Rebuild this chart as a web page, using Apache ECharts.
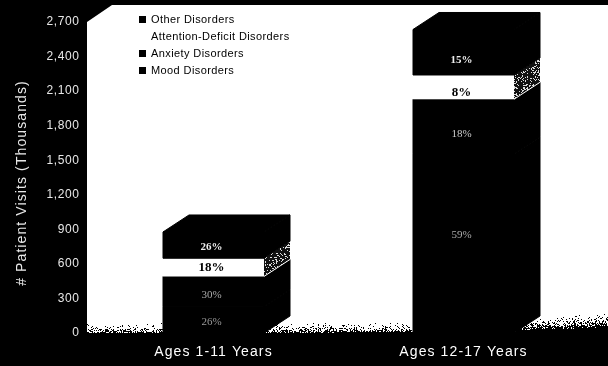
<!DOCTYPE html>
<html><head><meta charset="utf-8">
<style>html,body{margin:0;padding:0;background:#000}#c{width:608px;height:366px}</style>
<script src="https://cdn.jsdelivr.net/npm/echarts@6/dist/echarts.min.js"></script>
</head><body><div id="c"></div>
<script>
var categories = ['Ages 1-11 Years', 'Ages 12-17 Years'];
var yTickMax = 2700, yTickStep = 300;
var mood = [228, 1555];
var anxiety = [263, 474];
var adhd = [158, 211];
var other = [228, 395];
var moodPct = ['26%', '59%'];
var anxietyPct = ['30%', '18%'];
var adhdPct = ['18%', '8%'];
var otherPct = ['26%', '15%'];
var moodLabelAt = [95, 851];
var anxietyLabelAt = [330, 1727];
var adhdLabelAt = [564, 2083];
var otherLabelAt = [747, 2370];

// The reference's sans text is tracked out: apply letter spacing by font size at draw time.
var tracking = { '14px': '1.1px', '12px': '0.6px', '11px': '0.4px' };
var rawFill = CanvasRenderingContext2D.prototype.fillText;
CanvasRenderingContext2D.prototype.fillText = function (t, x, y, m) {
  var f = this.font, s = '0px';
  if (f.indexOf('Liberation Sans') >= 0) { var k = f.match(/([\d.]+px)/); if (k && tracking[k[1]]) s = tracking[k[1]]; }
  this.letterSpacing = s;
  if (m === undefined) rawFill.call(this, t, x, y); else rawFill.call(this, t, x, y, m);
  this.letterSpacing = '0px';
};

function h(x, y) { var n = Math.sin(x * 12.9898 + y * 78.233) * 43758.5453; return n - Math.floor(n); }
function speckTile() {
  var c = document.createElement('canvas'); c.width = c.height = 48;
  var g = c.getContext('2d'); g.fillStyle = '#111'; g.fillRect(0, 0, 48, 48); g.fillStyle = '#ddd';
  for (var y = 0; y < 48; y++) for (var x = 0; x < 48; x++) if (h(x, y) < 0.22) g.fillRect(x, y, 1, 1);
  return c;
}
function floorBottom(x) { return x < 515 ? 333 - (x - 87) * 0.004 : 331 - (x - 515) * 0.05; }
function floorTexture() {
  var c = document.createElement('canvas'); c.width = 521; c.height = 36;
  var g = c.getContext('2d'); g.fillStyle = '#000';
  for (var x = 0; x < 521; x++) for (var y = 0; y < 36; y++) {
    var X = x + 87, Y = y + 304, d = floorBottom(X) - Y, depth = X > 515 ? 16 : 11;
    if (d < 0) { g.fillRect(x, y, 1, 1); continue; }
    if (d < depth) {
      var p = Math.pow(1 - d / depth, 2.2) * (X > 515 ? 0.95 : 0.75);
      if (h(X, Y) < p) g.fillRect(x, y, 1, 1);
    }
  }
  return c;
}
var sidePattern = { image: speckTile(), repeat: 'repeat' };

function makeSeries(name, values, bases, pcts, labelAt, fill, labelColor, labelFont, sideFill, isTop) {
  var solid = { fill: '#000', stroke: '#000', lineWidth: 1 };
  return {
    name: name, type: 'custom', coordinateSystem: 'cartesian2d', itemStyle: { color: fill },
    encode: { x: 0, y: [1, 2] },
    data: values.map(function (v, i) { return [i, bases[i], bases[i] + v, labelAt[i], pcts[i]]; }),
    renderItem: function (params, api) {
      var i = api.value(0), band = api.size([1, 0])[0], w = band * 0.404, dx = band * 0.104, dy = band * 0.068;
      var p0 = api.coord([i, api.value(1)]), p1 = api.coord([i, api.value(2)]);
      var xl = p0[0] - w / 2, xr = p0[0] + w / 2, yb = p0[1], yt = p1[1];
      var kids = [
        { type: 'polygon', shape: { points: [[xr, yb], [xr + dx, yb - dy], [xr + dx, yt - dy], [xr, yt]] }, style: sideFill === '#000' ? solid : { fill: sideFill } },
        { type: 'rect', shape: { x: xl, y: yt, width: w, height: yb - yt }, style: fill === '#000' ? solid : { fill: fill } }
      ];
      if (sideFill !== '#000') kids.push({ type: 'line', shape: { x1: xr, y1: yb, x2: xr + dx, y2: yb - dy }, style: { stroke: '#fff', lineWidth: 1 } });
      if (isTop) kids.push({ type: 'polygon', shape: { points: [[xl, yt], [xl + dx, yt - dy], [xr + dx, yt - dy], [xr, yt]] }, style: solid });
      var lp = api.coord([i, api.value(3)]);
      kids.push({ type: 'text', style: { text: api.value(4), x: p0[0] - 2, y: lp[1], align: 'center', verticalAlign: 'middle', fill: labelColor[i], font: labelFont } });
      return { type: 'group', children: kids };
    }
  };
}
var b1 = mood.slice();
var b2 = mood.map(function (v, i) { return v + anxiety[i]; });
var b3 = b2.map(function (v, i) { return v + adhd[i]; });
var serif = '"Liberation Serif"';

var chart = echarts.init(document.getElementById('c'), null, { renderer: 'canvas' });
chart.setOption({
  backgroundColor: '#000', animation: false,
  graphic: [
    { type: 'polygon', z: 0, shape: { points: [[87, 22], [112, 5], [608, 5], [608, 340], [87, 340]] }, style: { fill: '#fff' } },
    { type: 'image', z: 1, x: 87, y: 304, style: { image: floorTexture(), x: 0, y: 0, width: 521, height: 36 } }
  ],
  grid: { left: 88.5, width: 500, top: 22, height: 311 },
  xAxis: {
    type: 'category', data: categories, axisLine: { show: false }, axisTick: { show: false },
    axisLabel: { color: '#ffffff', fontFamily: 'Liberation Sans', fontSize: 14, margin: 12 }
  },
  yAxis: {
    type: 'value', min: 0, max: yTickMax, interval: yTickStep,
    name: '# Patient Visits (Thousands)', nameLocation: 'middle', nameGap: 59,
    nameTextStyle: { color: '#e8e8e8', fontFamily: 'Liberation Sans', fontSize: 14, padding: [0, 11, 0, 0] },
    axisLine: { show: false }, axisTick: { show: false }, splitLine: { show: false },
    axisLabel: { color: '#e8e8e8', fontFamily: 'Liberation Sans', fontSize: 12, margin: 9,
      formatter: function (v) { return v.toLocaleString('en-US'); } }
  },
  legend: {
    orient: 'vertical', left: 134, top: 9, selectedMode: false, itemWidth: 7, itemHeight: 7, itemGap: 6,
    icon: 'rect', textStyle: { color: '#000', fontFamily: 'Liberation Sans', fontSize: 11 },
    data: ['Other Disorders', 'Attention-Deficit Disorders', 'Anxiety Disorders', 'Mood Disorders']
  },
  series: [
    makeSeries('Mood Disorders', mood, [0, 0], moodPct, moodLabelAt, '#000', ['#999', '#aaa'], '11px ' + serif, '#000', false),
    makeSeries('Anxiety Disorders', anxiety, b1, anxietyPct, anxietyLabelAt, '#000', ['#aaa', '#ccc'], '11px ' + serif, '#000', false),
    makeSeries('Attention-Deficit Disorders', adhd, b2, adhdPct, adhdLabelAt, '#fff', ['#000', '#000'], 'bold 13px ' + serif, sidePattern, false),
    makeSeries('Other Disorders', other, b3, otherPct, otherLabelAt, '#000', ['#eee', '#eee'], 'bold 11px ' + serif, '#000', true)
  ]
});
</script></body></html>
